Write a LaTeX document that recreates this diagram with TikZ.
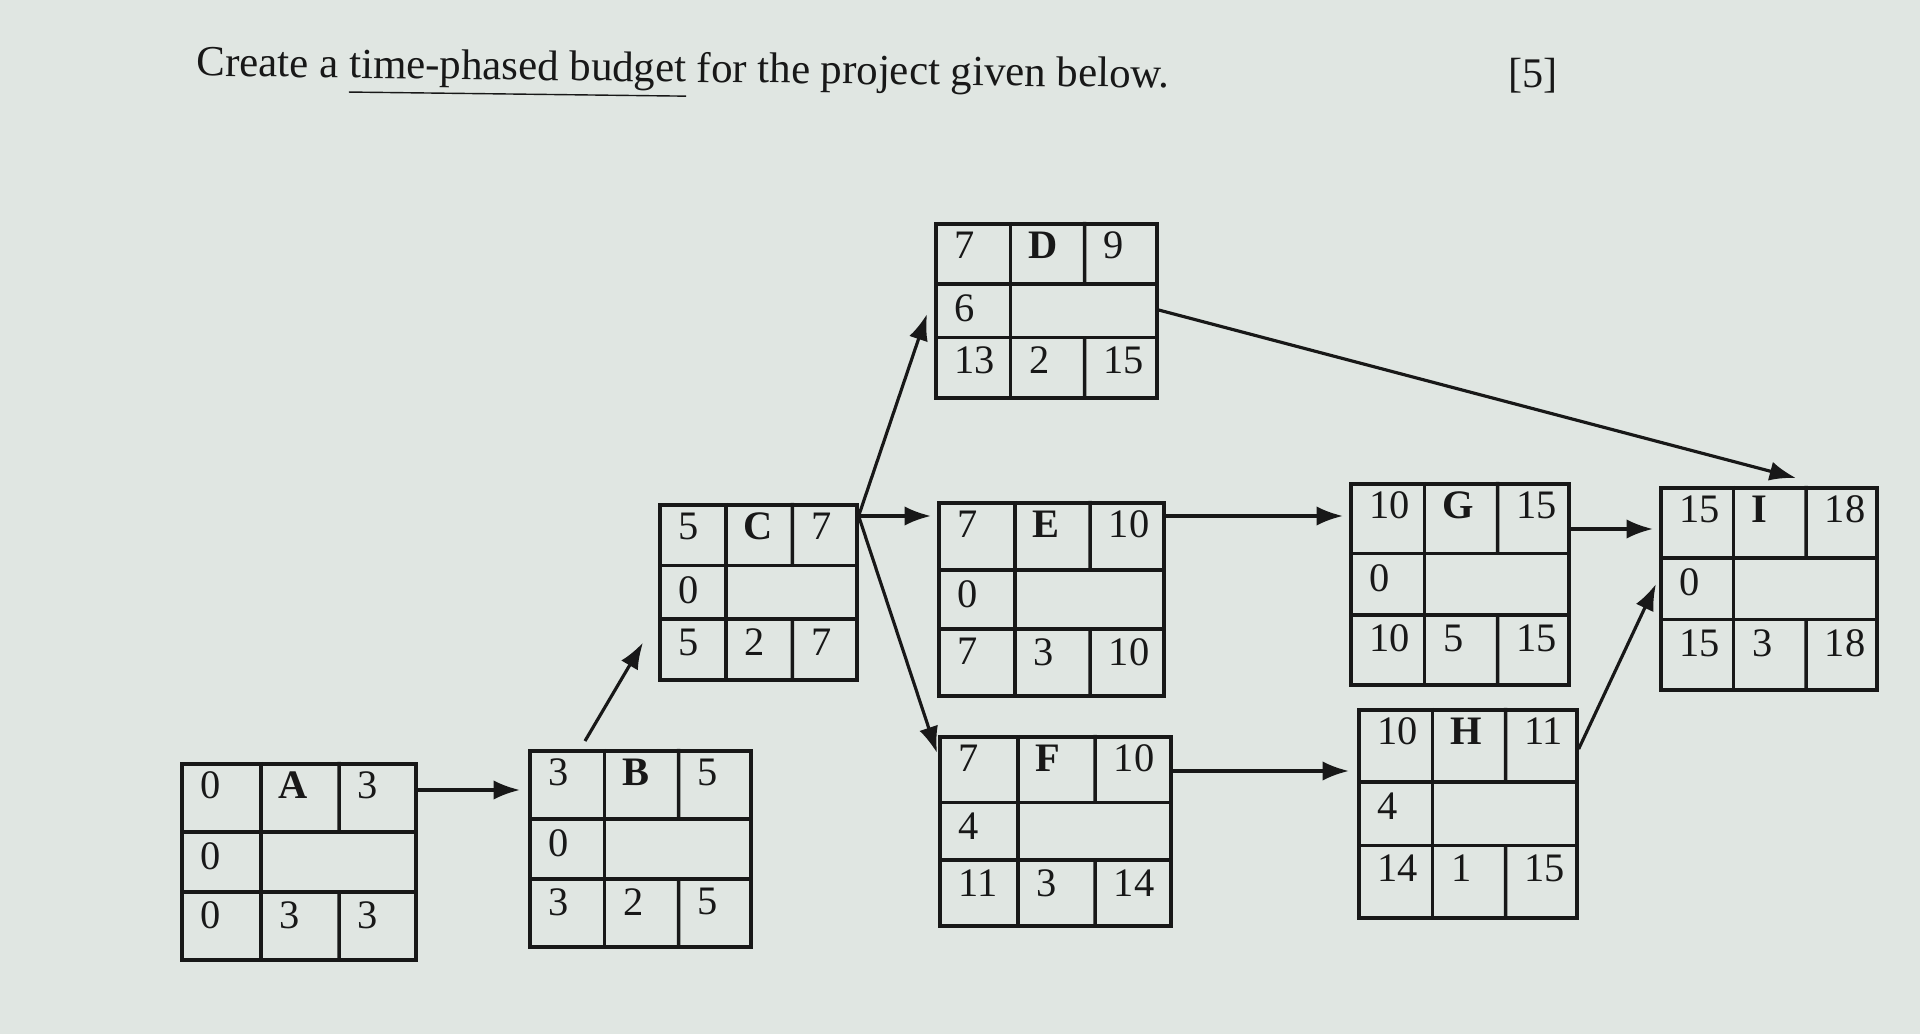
\documentclass[tikz,border=0pt]{standalone}
\usepackage{fontspec}
\setmainfont{Liberation Serif}
\usetikzlibrary{calc,arrows.meta}
\definecolor{paper}{RGB}{224,230,226}
\definecolor{ink}{RGB}{24,24,24}
\tikzset{
  actbox/.style={draw=ink, line width=1pt, inner sep=0pt, anchor=north west},
  grid/.style={draw=ink, line width=1pt},
  val/.style={anchor=north west, inner sep=0pt, text=ink, font=\fontsize{11.5}{13}\selectfont},
  lbl/.style={val, font=\fontsize{11.5}{13}\selectfont\bfseries},
  arr/.style={-{Latex[length=7.5pt,width=5.5pt]}, line width=0.9pt, draw=ink},
}
% grid and numbers of one activity box:
% name, ES, label, EF, slack, LS, duration, LF
\newcommand{\cells}[8]{%
  \coordinate (#1-c1t) at ($(#1.north west)!.34!(#1.north east)$);
  \coordinate (#1-c1b) at ($(#1.south west)!.34!(#1.south east)$);
  \coordinate (#1-c2t) at ($(#1.north west)!.67!(#1.north east)$);
  \coordinate (#1-c2b) at ($(#1.south west)!.67!(#1.south east)$);
  \draw[grid] ($(#1.north west)!.35!(#1.south west)$) -- ($(#1.north east)!.35!(#1.south east)$);
  \draw[grid] ($(#1.north west)!.65!(#1.south west)$) -- ($(#1.north east)!.65!(#1.south east)$);
  \draw[grid] (#1-c1t) -- (#1-c1b);
  \draw[grid] (#1-c2t) -- ($(#1-c2t)!.35!(#1-c2b)$);
  \draw[grid] ($(#1-c2t)!.65!(#1-c2b)$) -- (#1-c2b);
  \node[val] at ($(#1.north west)+(20,9)$) {#2};
  \node[lbl] at ($(#1-c1t)+(17,9)$) {#3};
  \node[val] at ($(#1-c2t)+(18,9)$) {#4};
  \node[val] at ($(#1.north west)!.35!(#1.south west)+(20,10)$) {#5};
  \node[val] at ($(#1.north west)!.65!(#1.south west)+(20,9)$) {#6};
  \node[val] at ($(#1-c1t)!.65!(#1-c1b)+(18,9)$) {#7};
  \node[val] at ($(#1-c2t)!.65!(#1-c2b)+(18,9)$) {#8};
}
\begin{document}
\begin{tikzpicture}[x=0.01cm, y=-0.01cm]
\useasboundingbox (0,0) rectangle (1920,1034);
\fill[paper] (0,0) rectangle (1920,1034);

% question
\node[anchor=base west, inner sep=0pt, text=ink, font=\fontsize{12.2}{14}\selectfont, rotate=-0.7] (title) at (196,76)
  {Create a \underline{time-phased budget} for the project given below.};
\node[anchor=base west, inner sep=0pt, text=ink, font=\fontsize{12}{14}\selectfont] (marks) at (1508,88) {[5]};

% activity boxes
\node[actbox, minimum width=2.34cm, minimum height=1.96cm] (A) at (180,762) {};
\node[actbox, minimum width=2.21cm, minimum height=1.96cm] (B) at (528,749) {};
\node[actbox, minimum width=1.97cm, minimum height=1.75cm] (C) at (658,503) {};
\node[actbox, minimum width=2.21cm, minimum height=1.74cm] (D) at (934,222) {};
\node[actbox, minimum width=2.25cm, minimum height=1.93cm] (E) at (937,501) {};
\node[actbox, minimum width=2.31cm, minimum height=1.89cm] (F) at (938,735) {};
\node[actbox, minimum width=2.18cm, minimum height=2.01cm] (G) at (1349,482) {};
\node[actbox, minimum width=2.18cm, minimum height=2.08cm] (H) at (1357,708) {};
\node[actbox, minimum width=2.16cm, minimum height=2.02cm] (I) at (1659,486) {};

\cells{A}{0}{A}{3}{0}{0}{3}{3}
\cells{B}{3}{B}{5}{0}{3}{2}{5}
\cells{C}{5}{C}{7}{0}{5}{2}{7}
\cells{D}{7}{D}{9}{6}{13}{2}{15}
\cells{E}{7}{E}{10}{0}{7}{3}{10}
\cells{F}{7}{F}{10}{4}{11}{3}{14}
\cells{G}{10}{G}{15}{0}{10}{5}{15}
\cells{H}{10}{H}{11}{4}{14}{1}{15}
\cells{I}{15}{I}{18}{0}{15}{3}{18}

% precedence arrows
\draw[arr] ($(A.north east)+(0,28)$) -- ($(B.north west)+(-8,41)$);
\draw[arr] ($(B.north west)+(57,-8)$) -- ($(C.south west)+(-15,-39)$);
\draw[arr] ($(C.north east)+(0,13)$) -- ($(D.north west)+(-7,92)$);
\draw[arr] ($(C.north east)+(0,13)$) -- ($(E.north west)+(-6,15)$);
\draw[arr] ($(C.north east)+(0,13)$) -- ($(F.north west)+(-1,18)$);
\draw[arr] ($(D.north east)+(0,88)$) -- ($(I.north west)+(137,-8)$);
\draw[arr] ($(E.north east)+(0,15)$) -- ($(G.north west)+(-6,34)$);
\draw[arr] ($(F.north east)+(0,36)$) -- ($(H.north west)+(-8,63)$);
\draw[arr] ($(G.north east)+(0,47)$) -- ($(I.north west)+(-6,43)$);
\draw[arr] ($(H.north east)+(0,41)$) -- ($(I.north west)+(-3,98)$);
\end{tikzpicture}
\end{document}
